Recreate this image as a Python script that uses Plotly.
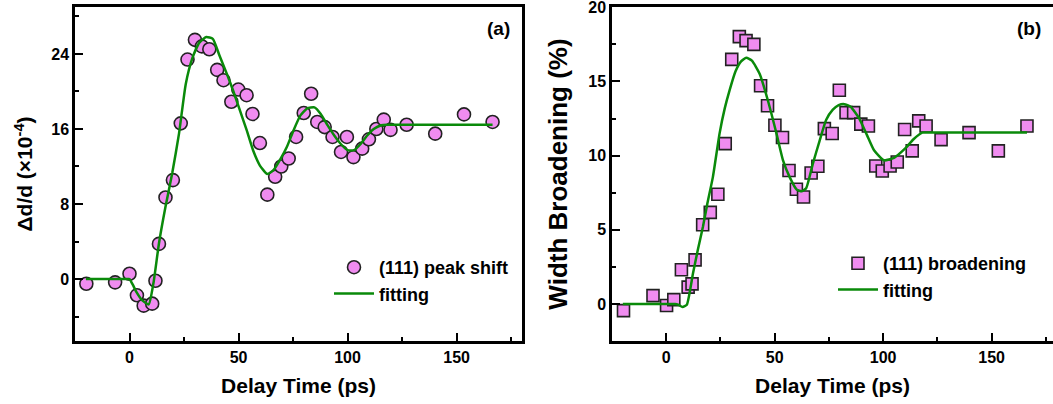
import plotly.graph_objects as go

# ---------------- Panel (a): (111) peak shift ----------------
shift_t = [-19.8, -6.6, 0.0, 3.4, 6.5, 10.4, 11.9, 13.5, 16.5, 19.9, 23.5, 26.6, 30.0, 33.2,
           36.6, 40.2, 43.1, 46.7, 49.9, 53.7, 56.4, 59.8, 63.2, 66.8, 69.6, 73.0, 76.4, 79.9,
           83.3, 86.1, 89.5, 93.1, 97.0, 99.7, 102.7, 106.7, 109.8, 113.2, 116.6, 119.7, 127.1,
           140.2, 153.4, 166.5]
shift_v = [-0.5, -0.35, 0.57, -1.73, -2.83, -2.62, -0.18, 3.75, 8.7, 10.55, 16.6, 23.4, 25.5, 24.8,
           24.5, 22.3, 21.2, 18.9, 20.2, 19.6, 17.6, 14.5, 9.0, 10.9, 12.0, 12.85, 15.15, 17.7,
           19.75, 16.75, 16.2, 15.15, 13.55, 15.15, 13.0, 13.9, 14.9, 16.0, 17.0, 15.9, 16.45,
           15.5, 17.55, 16.75]

fit_a_t = [-20, -3, -1, 0, 1.5, 3, 6, 8.8, 11, 13.5, 16.5, 19.6, 22.7, 25.8, 28.9, 32, 35.2, 38.2,
           41.3, 44.6, 47.5, 50.6, 53.7, 56.7, 59.8, 63.2, 66, 69, 72.2, 75.3, 78.4, 81.5, 84.8,
           87.7, 90.8, 93.9, 96.9, 100, 103, 106, 109, 112, 115.5, 118, 121, 166.5]
fit_a_v = [0, 0, 0, 0, -0.6, -1.3, -2.3, -2.7, -0.4, 3.8, 7.7, 11.3, 15.5, 20.8, 23.6, 25.2, 25.8,
           25.6, 23.8, 21.9, 20.1, 18.0, 15.9, 13.7, 12.1, 11.2, 11.6, 12.7, 14.1, 15.9, 17.45,
           18.2, 18.3, 17.6, 16.4, 15.3, 14.4, 13.75, 13.75, 14.4, 15.3, 16.0, 16.4, 16.45,
           16.45, 16.45]

# ---------------- Panel (b): (111) broadening ----------------
broad_t = [-19.7, -6.1, 0.15, 3.5, 7.0, 10.1, 11.9, 13.3, 16.8, 20.3, 23.8, 27.2, 30.2, 33.7,
           36.8, 40.4, 43.5, 46.7, 50.1, 53.6, 56.6, 60.0, 63.3, 66.8, 69.9, 72.9, 76.5, 79.8,
           82.9, 86.4, 89.7, 93.2, 96.6, 99.6, 103.2, 106.5, 109.9, 113.4, 116.4, 119.8, 126.7,
           139.6, 153.1, 166.3]
broad_v = [-0.45, 0.56, -0.11, 0.29, 2.3, 1.13, 1.35, 2.97, 5.34, 6.17, 7.39, 10.81, 16.49, 18.02,
           17.75, 17.5, 14.71, 13.36, 12.05, 11.22, 9.0, 7.73, 7.21, 8.83, 9.28, 11.82, 11.49, 14.41,
           12.9, 12.9, 12.12, 12.0, 9.3, 8.96, 9.3, 9.57, 11.76, 10.32, 12.34, 12.0, 11.08,
           11.55, 10.32, 12.0]

fit_b_t = [-20, 2, 4, 5.5, 7.5, 9.5, 12.3, 14.5, 16.9, 19, 21.5, 24.6, 27, 29.2, 32, 34.5, 36.9,
           39.5, 43.1, 46.9, 50.8, 53.8, 56.9, 60.2, 62.5, 64.5, 67.6, 70.7, 73.7, 76.8, 79.5,
           82.1, 85, 89, 92.5, 95.8, 100.4, 105, 110.3, 114, 118, 121, 166.3]
fit_b_v = [0, 0, 0, -0.05, -0.2, -0.05, 2.03, 3.6, 5.18, 6.8, 8.55, 11.5, 13.2, 14.4, 15.7, 16.35,
           16.6, 16.4, 15.5, 13.7, 11.5, 9.7, 8.55, 7.7, 7.6, 7.8, 9.46, 11.0, 12.4, 13.1, 13.4,
           13.47, 13.3, 12.5, 11.4, 10.36, 9.68, 9.85, 10.5, 11.1, 11.55, 11.55, 11.55]

x_ticks = [0, 50, 100, 150]
ya_ticks = [0, 8, 16, 24]
yb_ticks = [0, 5, 10, 15, 20]

FONT = "Liberation Sans"
PINK = "#F08CF0"
EDGE = "#222222"
GREEN = "#0A8A0A"

W, H = 1053, 404
ML, MR, MT, MB = 0, 0, 7, 63
plot_h = H - MT - MB


def px_x(p):
    return p / W


def px_y(p):
    return (H - MB - p) / plot_h


fig = go.Figure()

fig.add_trace(go.Scatter(
    x=shift_t, y=shift_v, mode="markers", name="(111) peak shift",
    marker=dict(symbol="circle", size=13, color=PINK, line=dict(color=EDGE, width=1.6)),
    xaxis="x", yaxis="y", legend="legend"))
fig.add_trace(go.Scatter(
    x=fit_a_t, y=fit_a_v, mode="lines", name="fitting",
    line=dict(color=GREEN, width=2.5, shape="spline", smoothing=0.5),
    xaxis="x", yaxis="y", legend="legend"))

fig.add_trace(go.Scatter(
    x=broad_t, y=broad_v, mode="markers", name="(111) broadening",
    marker=dict(symbol="square", size=12, color=PINK, line=dict(color=EDGE, width=1.6)),
    xaxis="x2", yaxis="y2", legend="legend2"))
fig.add_trace(go.Scatter(
    x=fit_b_t, y=fit_b_v, mode="lines", name="fitting",
    line=dict(color=GREEN, width=2.5, shape="spline", smoothing=0.5),
    xaxis="x2", yaxis="y2", legend="legend2"))

tickfont = dict(family=FONT, size=16, color="black", weight="bold")
titlefont = dict(family=FONT, size=21, color="black", weight="bold")


def minor(dt):
    return dict(dtick=dt, tick0=0, ticks="inside", ticklen=4, tickwidth=2, tickcolor="black")


common = dict(showgrid=False, zeroline=False, showline=True, linecolor="black", linewidth=2.5,
              ticks="inside", ticklen=8, tickwidth=2, tickcolor="black",
              tickfont=tickfont, automargin=False, ticklabeloverflow="allow")

fig.update_layout(
    width=W, height=H, margin=dict(l=ML, r=MR, t=MT, b=MB, autoexpand=False),
    paper_bgcolor="white", plot_bgcolor="white",
    font=dict(family=FONT, color="black", weight="bold"),
    showlegend=True,
    xaxis=dict(domain=[px_x(75), px_x(522)], range=[-25, 180], tickvals=x_ticks, minor=minor(25),
               title=dict(text="Delay Time (ps)", font=titlefont, standoff=14),
               anchor="y", mirror=True, **common),
    yaxis=dict(domain=[0, 1], range=[-6.6, 29], tickvals=ya_ticks, minor=minor(4),
               title=dict(text="\u0394d/d (\u00d710<sup>-4</sup>)", font=titlefont, standoff=13),
               anchor="x", mirror=True, **common),
    xaxis2=dict(domain=[px_x(612), 1.0], range=[-25, 178.3], tickvals=x_ticks, minor=minor(25),
                title=dict(text="Delay Time (ps)", font=titlefont, standoff=14),
                anchor="y2", mirror=True, **common),
    yaxis2=dict(domain=[0, 1], range=[-2.5, 20.02], tickvals=yb_ticks, minor=minor(2.5),
                title=dict(text="Width Broadening (%)",
                           font=dict(family=FONT, size=26, color="black", weight="bold"),
                           standoff=14),
                anchor="x2", mirror=False, **common),
    legend=dict(x=px_x(329), y=px_y(249), xanchor="left", yanchor="top",
                bgcolor="rgba(0,0,0,0)", borderwidth=0,
                font=dict(family=FONT, size=18, color="black", weight="bold"),
                itemwidth=40, tracegroupgap=0),
    legend2=dict(x=px_x(833), y=px_y(245), xanchor="left", yanchor="top",
                 bgcolor="rgba(0,0,0,0)", borderwidth=0,
                 font=dict(family=FONT, size=18, color="black", weight="bold"),
                 itemwidth=40, tracegroupgap=0),
    annotations=[
        dict(text="(a)", x=px_x(512), y=px_y(29), xref="paper", yref="paper",
             xanchor="right", yanchor="middle", showarrow=False,
             font=dict(family=FONT, size=19, color="black", weight="bold")),
        dict(text="(b)", x=px_x(1043), y=px_y(29), xref="paper", yref="paper",
             xanchor="right", yanchor="middle", showarrow=False,
             font=dict(family=FONT, size=19, color="black", weight="bold")),
    ],
)

fig.write_html("out.html", config={"displayModeBar": False},
               post_script="document.body.style.margin='0';document.body.style.padding='0';")
